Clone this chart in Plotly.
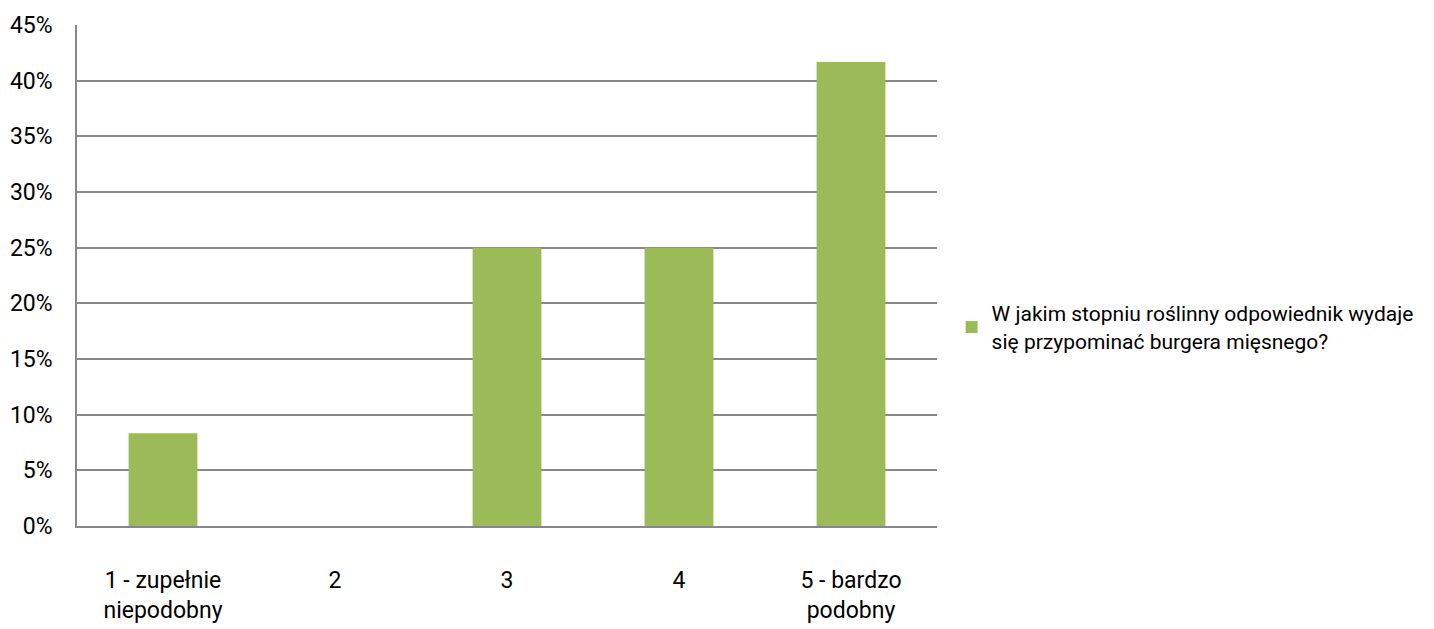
import plotly.graph_objects as go

# Survey answers (scale 1-5) and share of respondents
categories = ["1 - zupełnie<br>niepodobny", "2", "3", "4", "5 - bardzo<br>podobny"]
shares = [1 / 12, 0.0, 3 / 12, 3 / 12, 5 / 12]
series_name = "W jakim stopniu roślinny odpowiednik wydaje<br>się przypominać burgera mięsnego?"
y_ticks = [0, 0.05, 0.10, 0.15, 0.20, 0.25, 0.30, 0.35, 0.40, 0.45]
y_tick_text = ["0%", "5%", "10%", "15%", "20%", "25%", "30%", "35%", "40%", "45%"]

FONT = "Roboto, sans-serif"
GRID = "#888888"

fig = go.Figure(
    go.Bar(
        x=categories,
        y=shares,
        name=series_name,
        marker=dict(color="#9BBB59", line=dict(width=0)),
        showlegend=True,
    )
)

fig.update_layout(
    width=1434,
    height=629,
    margin=dict(l=77, r=497, t=25, b=103, autoexpand=False),
    paper_bgcolor="white",
    plot_bgcolor="white",
    bargap=0.6,
    font=dict(family=FONT, size=23, color="#000000"),
    legend=dict(
        x=1.017,
        y=0.397,
        xanchor="left",
        yanchor="middle",
        font=dict(family=FONT, size=21, color="#000000"),
        itemwidth=30,
        tracegroupgap=0,
    ),
    xaxis=dict(
        showgrid=False,
        showline=True,
        linecolor=GRID,
        linewidth=1.5,
        ticks="",
        ticklabelstandoff=33,
        tickfont=dict(family=FONT, size=23),
    ),
    yaxis=dict(
        range=[0, 0.45],
        tickvals=y_ticks,
        ticktext=y_tick_text,
        showgrid=True,
        gridcolor=GRID,
        gridwidth=1.5,
        showline=True,
        linecolor=GRID,
        linewidth=1.5,
        zeroline=False,
        ticks="",
        ticklabelstandoff=18,
        tickfont=dict(family=FONT, size=23),
    ),
)

fig.write_html("out.html")
